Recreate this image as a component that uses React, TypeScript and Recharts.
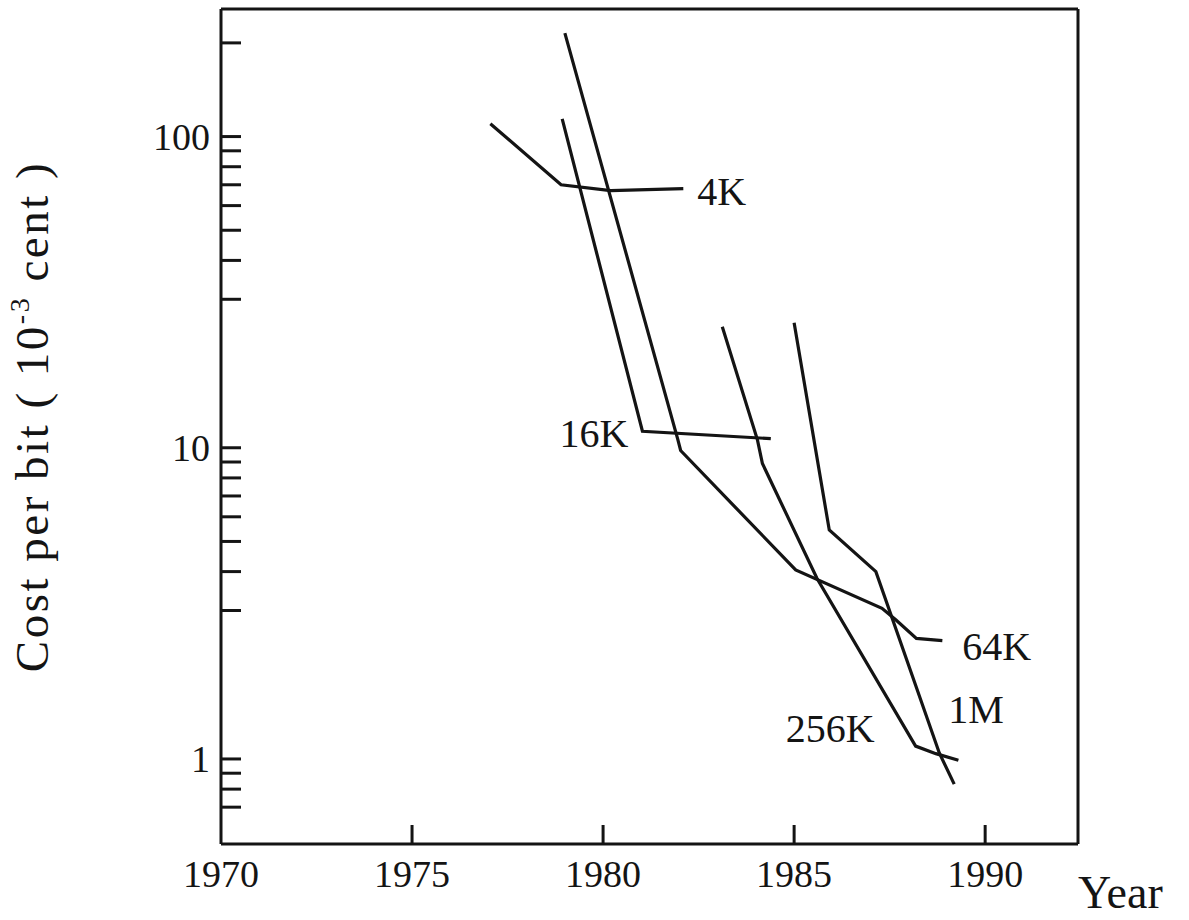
import { LineChart, Line, XAxis, YAxis, ReferenceLine } from 'recharts';

// DRAM cost per bit by generation (10^-3 cent)
const dram4K = [
  { year: 1977.05, cost: 110 },
  { year: 1978.9, cost: 70 },
  { year: 1980.2, cost: 67 },
  { year: 1982.1, cost: 68 },
];

const dram16K = [
  { year: 1978.93, cost: 114 },
  { year: 1981.03, cost: 11.3 },
  { year: 1984.39, cost: 10.7 },
];

const dram64K = [
  { year: 1979.0, cost: 215 },
  { year: 1981.95, cost: 10.7 },
  { year: 1982.03, cost: 9.8 },
  { year: 1985.04, cost: 4.05 },
  { year: 1987.3, cost: 3.05 },
  { year: 1987.66, cost: 2.8 },
  { year: 1988.2, cost: 2.44 },
  { year: 1988.88, cost: 2.4 },
];

const dram256K = [
  { year: 1983.12, cost: 24.5 },
  { year: 1984.04, cost: 10.6 },
  { year: 1984.17, cost: 8.9 },
  { year: 1985.6, cost: 3.8 },
  { year: 1988.18, cost: 1.1 },
  { year: 1988.71, cost: 1.04 },
  { year: 1989.3, cost: 0.99 },
];

const dram1M = [
  { year: 1985.0, cost: 25.2 },
  { year: 1985.92, cost: 5.44 },
  { year: 1987.14, cost: 4.0 },
  { year: 1988.8, cost: 1.045 },
  { year: 1989.19, cost: 0.83 },
];

const yearTicks = [1970, 1975, 1980, 1985, 1990];
const costTicks = [0.7, 0.8, 0.9, 1, 3, 4, 5, 6, 7, 8, 9, 10, 30, 40, 50, 60, 70, 80, 90, 100, 200];
const costTickLabels = [1, 10, 100];

const YEAR_DOMAIN = [1970, 1992.43];
const COST_DOMAIN = [0.533, 257];

const FONT = '"Liberation Serif", "Times New Roman", serif';
const INK = '#141414';

// where each generation's name sits, relative to one of its points
const series = [
  { name: '4K', data: dram4K, at: 3, dx: 14, dy: 2, anchor: 'start' },
  { name: '16K', data: dram16K, at: 1, dx: -14, dy: 2, anchor: 'end' },
  { name: '64K', data: dram64K, at: 7, dx: 20, dy: 5, anchor: 'start' },
  { name: '256K', data: dram256K, at: 4, dx: -41, dy: -18, anchor: 'end' },
  { name: '1M', data: dram1M, at: 3, dx: 9, dy: -44, anchor: 'start' },
];

function YearTick({ x, y, payload }: any) {
  return (
    <g>
      {payload.value !== 1970 && (
        <line x1={x} y1={y} x2={x} y2={y - 19} stroke={INK} strokeWidth={3} />
      )}
      <text x={x} y={y + 43} textAnchor="middle" fontFamily={FONT} fontSize={38} fill={INK}>
        {payload.value}
      </text>
    </g>
  );
}

function CostTick({ x, y, payload }: any) {
  const v = payload.value;
  return (
    <g>
      <line x1={x} y1={y} x2={x + 20} y2={y} stroke={INK} strokeWidth={3} />
      {costTickLabels.includes(v) && (
        <text x={x - 11} y={y} dy="0.35em" textAnchor="end" fontFamily={FONT} fontSize={38} fill={INK}>
          {v}
        </text>
      )}
    </g>
  );
}

function CostAxisLabel({ viewBox }: any) {
  const cx = viewBox.x + 48;
  const cy = viewBox.y + viewBox.height / 2 - 10;
  return (
    <text
      x={cx}
      y={cy}
      transform={`rotate(-90 ${cx} ${cy})`}
      textAnchor="middle"
      fontFamily={FONT}
      fontSize={47}
      fill={INK}
      letterSpacing={2.5}
    >
      Cost per bit ( 10
      <tspan dy={-19} fontSize={28}>-3</tspan>
      <tspan dy={19}> cent )</tspan>
    </text>
  );
}

function YearAxisLabel({ viewBox }: any) {
  return (
    <text
      x={viewBox.x + viewBox.width}
      y={viewBox.y + 64}
      textAnchor="start"
      fontFamily={FONT}
      fontSize={46}
      fill={INK}
    >
      Year
    </text>
  );
}

export default function App() {
  return (
    <div style={{ position: 'absolute', left: 0, top: 0, background: '#fff' }}>
      <LineChart width={1189} height={920} margin={{ top: 9, right: 111, bottom: 0, left: 0 }}>
        <XAxis
          dataKey="year"
          type="number"
          domain={YEAR_DOMAIN}
          ticks={yearTicks}
          interval={0}
          allowDataOverflow
          tickSize={0}
          tickMargin={0}
          tickLine={false}
          tick={<YearTick />}
          height={76}
          axisLine={{ stroke: INK, strokeWidth: 3 }}
          label={<YearAxisLabel />}
        />
        <YAxis
          type="number"
          scale="log"
          domain={COST_DOMAIN}
          ticks={costTicks}
          interval={0}
          allowDataOverflow
          tickSize={0}
          tickMargin={0}
          tickLine={false}
          tick={<CostTick />}
          width={221}
          axisLine={{ stroke: INK, strokeWidth: 3 }}
          label={<CostAxisLabel />}
        />
        {/* closing frame: top and right edges */}
        <ReferenceLine y={COST_DOMAIN[1]} stroke={INK} strokeWidth={3} ifOverflow="visible" />
        <ReferenceLine x={YEAR_DOMAIN[1]} stroke={INK} strokeWidth={3} ifOverflow="visible" />
        {series.map((s) => (
          <Line
            key={s.name}
            data={s.data}
            dataKey="cost"
            name={s.name}
            type="linear"
            stroke={INK}
            strokeWidth={3.2}
            dot={false}
            isAnimationActive={false}
            label={(p: any) =>
              p.index === s.at ? (
                <text
                  key={s.name}
                  x={p.x + s.dx}
                  y={p.y + s.dy}
                  dy="0.35em"
                  textAnchor={s.anchor}
                  fontFamily={FONT}
                  fontSize={40}
                  fill={INK}
                >
                  {s.name}
                </text>
              ) : (
                <g key={`${s.name}-${p.index}`} />
              )
            }
          />
        ))}
      </LineChart>
    </div>
  );
}
